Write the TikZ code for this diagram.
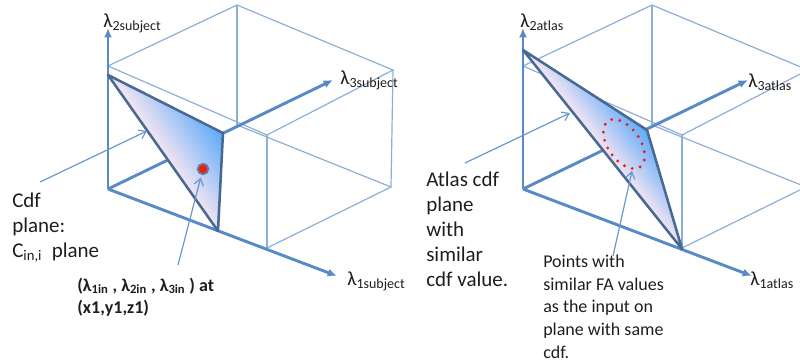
\documentclass[tikz,border=0pt]{standalone}
\usepackage{fontspec}
\setmainfont{Carlito}
\usepackage{xcolor}
\usepackage{tikz}
\usetikzlibrary{arrows.meta, positioning}

\definecolor{cubeline}{RGB}{140,175,215}
\definecolor{axisblue}{RGB}{88,138,198}
\definecolor{edgeblue}{RGB}{72,105,145}
\definecolor{planeblue}{RGB}{95,170,248}
\definecolor{planepink}{RGB}{246,230,242}
\definecolor{ptrblue}{RGB}{105,152,205}
\definecolor{txtdark}{RGB}{30,30,30}
\definecolor{dotred}{RGB}{235,30,20}

\newcommand{\axlab}[1]{λ\textsubscript{#1}}

\begin{document}
\begin{tikzpicture}[x=0.75pt, y=-0.75pt,
    cubeedge/.style={draw=cubeline, line width=0.9pt},
    axis/.style={-{Latex[length=7pt,width=6pt]}, line width=2.2pt, draw=axisblue},
    plane/.style={draw=edgeblue, line width=1.9pt, line join=round},
    pointer/.style={-{Straight Barb[length=5pt,width=7pt]}, line width=0.9pt, draw=ptrblue},
    axlabel/.style={anchor=base west, inner sep=0pt, text=txtdark,
                    font=\fontsize{15}{18}\selectfont},
    bigtxt/.style={anchor=base west, inner sep=0pt, align=left, text=txtdark,
                   font=\fontsize{15.75}{18.75}\selectfont},
    smalltxt/.style={anchor=base west, inner sep=0pt, align=left, text=txtdark,
                     font=\fontsize{13.5}{16.9}\selectfont}]

  \useasboundingbox (0,0) rectangle (800,362);

  % box and axes, same for subject (left) and atlas (right)
  \foreach \dx in {0,415} {
    \begin{scope}[shift={(\dx,0)}]
      \coordinate (o)  at (108,189);
      \coordinate (fb) at (267,248);
      \coordinate (br) at (391,187);
      \coordinate (bb) at (237,125);
      \coordinate (tl) at (108,66);
      \coordinate (tf) at (267,135);
      \coordinate (tr) at (393,70);
      \coordinate (tb) at (237,5);
      \draw[cubeedge] (tl) -- (tb) -- (tr) -- (tf) -- cycle;
      \draw[cubeedge] (bb) -- (br) -- (fb);
      \draw[cubeedge] (tb) -- (bb);
      \draw[cubeedge] (tr) -- (br);
      \draw[cubeedge] (tf) -- (fb);
      \coordinate (ax1) at (337,276);
      \coordinate (ax2) at (108,28);
      \coordinate (ax3) at (333,80);
      \draw[axis] (o) -- (ax1);
      \draw[axis] (o) -- (ax2);
      \draw[axis] (o) -- (ax3);
    \end{scope}
  }

  % subject cdf plane
  \coordinate (s1) at (108,75);
  \coordinate (s2) at (223,133);
  \coordinate (s3) at (218,231);
  \begin{scope}
    \clip (s1) -- (s2) -- (s3) -- cycle;
    \begin{scope}[transform canvas={shift={(s1)}, rotate=34.5}]
      \shade[left color=planepink, right color=planeblue] (0,-260) rectangle (60,260);
    \end{scope}
  \end{scope}
  \draw[plane] (s1) -- (s2) -- (s3) -- cycle;

  % atlas cdf plane
  \coordinate (a1) at (523,50);
  \coordinate (a2) at (647,130);
  \coordinate (a3) at (682,249);
  \begin{scope}
    \clip (a1) -- (a2) -- (a3) -- cycle;
    \begin{scope}[transform canvas={shift={(a1)}, rotate=38.1}]
      \shade[left color=planepink, right color=planeblue] (0,-260) rectangle (47,260);
    \end{scope}
  \end{scope}
  \draw[plane] (a1) -- (a2) -- (a3) -- cycle;

  % input point and similar points
  \node[circle, fill=dotred, draw=edgeblue!85, line width=1.3pt,
        minimum size=8pt, inner sep=0pt] (pt) at (203,169) {};
  \draw[dotred, line width=2.4pt, line cap=round, dash pattern=on 0pt off 6.2pt,
        shift={(624,144)}, rotate=-55] (0,0) ellipse [x radius=28, y radius=16];

  % axis labels
  \node[axlabel] (l2s) at (103,27)  {\axlab{2subject}};
  \node[axlabel] (l3s) at (340,84)  {\axlab{3subject}};
  \node[axlabel] (l1s) at (347,285) {\axlab{1subject}};
  \node[axlabel] (l2a) at (520,27)  {\axlab{2atlas}};
  \node[axlabel] (l3a) at (748,87)  {\axlab{3atlas}};
  \node[axlabel] (l1a) at (750,285) {\axlab{1atlas}};

  % texts (base = last line)
  \node[bigtxt] (cdf) at (12,257) {Cdf\\plane:\\C\textsubscript{in,i}~ plane};
  \node[smalltxt, font=\fontsize{13.5}{16.5}\selectfont\bfseries] (inp) at (77,313)
    {(λ\textsubscript{1in} , λ\textsubscript{2in} , λ\textsubscript{3in} ) at\\(x1,y1,z1)};
  \node[bigtxt] (atl) at (426,286) {Atlas cdf\\plane\\with\\similar\\cdf value.};
  \node[smalltxt] (sim) at (543,358) {Points with\\similar FA values\\as the input on\\plane with same\\cdf.};

  % pointers
  \coordinate (p1) at (40,182);
  \coordinate (q1) at (147,131);
  \draw[pointer] (p1) -- (q1);
  \coordinate (p2) at (178,265);
  \draw[pointer, shorten >=2pt] (p2) -- (pt);
  \coordinate (p3) at (465,163);
  \coordinate (q3) at (570,113);
  \draw[pointer] (p3) -- (q3);
  \coordinate (p4) at (613,256);
  \coordinate (q4) at (632,171);
  \draw[pointer] (p4) -- (q4);
\end{tikzpicture}
\end{document}
